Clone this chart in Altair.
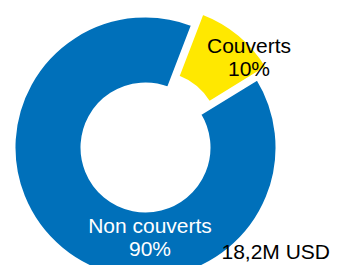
import math
import altair as alt
import pandas as pd

# ---- data ----
categories = ["Couverts", "Non couverts"]
shares = [10.4, 89.6]          # percent of total
total_text = "18,2M USD"

# ---- style / layout ----
colors = ["#FFE800", "#0070BA"]
start_deg = 21.0
cx, cy = 137.5, 139.5
R_out, R_in = 131.5, 63.5
explode = 15
font = "Liberation Sans"
fsize = 21

starts, acc = [], 0.0
for s in shares:
    starts.append(acc)
    acc += s
ends = [a + b for a, b in zip(starts, shares)]

df = pd.DataFrame({
    "cat": categories,
    "share": shares,
    "start": starts,
    "end": ends,
    "label": [f"{c}\n{round(s)}%" for c, s in zip(categories, shares)],
})

theta_scale = alt.Scale(domain=[0, 100],
                        range=[math.radians(start_deg), math.radians(start_deg) + 2 * math.pi])
color_scale = alt.Scale(domain=categories, range=colors)

# exploded centre of the "Couverts" slice
mid = math.radians(start_deg + 360 * (starts[0] + shares[0] / 2) / 100)
ex = cx + explode * math.sin(mid)
ey = cy - explode * math.cos(mid)

base = alt.Chart(df)

def arc_layer(cat, x, y):
    return base.transform_filter(alt.datum.cat == cat).mark_arc(
        radius=R_out, innerRadius=R_in, stroke="white", strokeWidth=3
    ).encode(
        theta=alt.Theta("start:Q", scale=theta_scale),
        theta2="end:Q",
        color=alt.Color("cat:N", scale=color_scale, legend=None),
        x=alt.value(x),
        y=alt.value(y),
    )

blue = arc_layer("Non couverts", cx, cy)
yellow = arc_layer("Couverts", ex, ey)

def label_layer(cat, x, y, col):
    return base.transform_filter(alt.datum.cat == cat).mark_text(
        font=font, fontSize=fsize, lineBreak="\n", lineHeight=23.5,
        align="center", baseline="middle", color=col
    ).encode(text="label:N", x=alt.value(x), y=alt.value(y))

lab_c = label_layer("Couverts", 241, 38.5, "#000000")
lab_n = label_layer("Non couverts", 142, 218.5, "#FFFFFF")

total = alt.Chart(pd.DataFrame({"t": [total_text]})).mark_text(
    font=font, fontSize=fsize, align="right", baseline="middle", color="#000000"
).encode(text="t:N", x=alt.value(322), y=alt.value(245))

chart = alt.layer(blue, yellow, lab_c, lab_n, total).properties(
    width=323, height=257, padding=0,
    autosize=alt.AutoSizeParams(type="none"),
).configure_view(stroke=None)

chart.save("out.html", embed_options={"renderer": "svg", "actions": False})
